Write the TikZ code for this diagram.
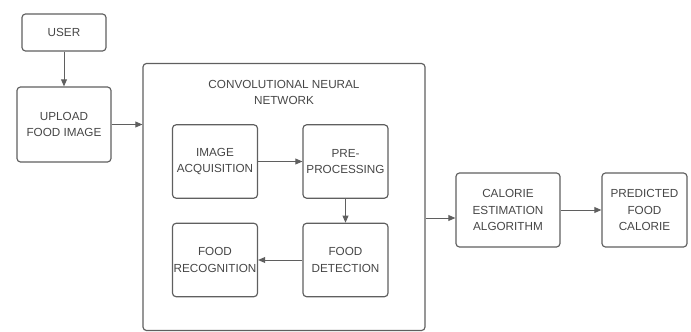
\documentclass[tikz,border=0pt]{standalone}
\usepackage{fontspec}
\setmainfont{Liberation Sans}
\usepackage{xcolor}
\usetikzlibrary{arrows.meta,positioning,calc}
\definecolor{boxgray}{RGB}{95,95,95}
\definecolor{txtgray}{RGB}{70,70,70}

\begin{document}
\begin{tikzpicture}[
  x=0.03cm, y=-0.03cm,
  font=\fontsize{10}{14}\selectfont, text=txtgray,
  blk/.style={draw=boxgray, line width=1pt, rounded corners=3pt,
              minimum width=2.55cm, minimum height=2.2cm, align=center, inner sep=1pt},
  grp/.style={draw=boxgray, line width=1pt, rounded corners=3pt,
              minimum width=8.46cm, minimum height=8.01cm},
  arr/.style={-{Triangle[length=6pt,width=5pt]}, draw=boxgray, line width=0.8pt}
]
\useasboundingbox (0,0) rectangle (691,332);
% outer flow
\node[blk, minimum width=2.52cm, minimum height=1.11cm] (user) at (64,32.5) {USER};
\node[blk, minimum width=2.82cm, minimum height=2.25cm] (upload) at (64,124.5) {UPLOAD\\FOOD IMAGE};
\node[grp] (cnn) at (284,197) {};
\node[align=center] (cnntitle) at (284,92.5) {CONVOLUTIONAL NEURAL\\NETWORK};
% inside the network
\node[blk] (acq) at (215,161.5) {IMAGE\\ACQUISITION};
\node[blk] (pre) at (345.5,161.5) {PRE-\\PROCESSING};
\node[blk] (det) at (345.5,260) {FOOD\\DETECTION};
\node[blk] (rec) at (215,260) {FOOD\\RECOGNITION};
% output side
\node[blk, minimum width=3.12cm, minimum height=2.22cm] (calorie) at (508,210) {CALORIE\\ESTIMATION\\ALGORITHM};
\node[blk, minimum height=2.22cm] (pred) at (644.5,210) {PREDICTED\\FOOD\\CALORIE};
\coordinate (calin) at ($(calorie.west)+(0,8)$);
\draw[arr] (user) -- (upload);
\draw[arr] (upload) -- (upload -| cnn.west);
\draw[arr] (acq) -- (pre);
\draw[arr] (pre) -- (det);
\draw[arr] (det) -- (rec);
\draw[arr] (calin -| cnn.east) -- (calin);
\draw[arr] (calorie) -- (pred);
\end{tikzpicture}
\end{document}
